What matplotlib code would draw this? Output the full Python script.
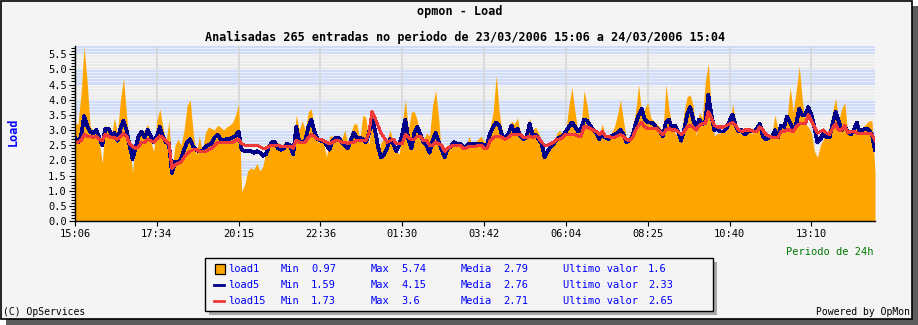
import matplotlib.pyplot as plt
import numpy as np
from matplotlib.patches import Rectangle
from matplotlib.lines import Line2D

plt.rcParams['font.family'] = 'DejaVu Sans Mono'

W, H = 918, 325

# load averages, one sample every ~5.4 minutes over 24h
load1 = [
    3.2, 3.2, 4.2, 5.74, 4.6, 3.1, 3.0, 3.1, 2.6, 1.9,
    3.2, 2.9, 2.8, 3.4, 2.9, 4.0, 4.7, 3.5, 2.5, 1.6,
    2.6, 3.0, 2.9, 3.0, 3.2, 2.6, 2.3, 3.3, 3.7, 3.1,
    2.6, 3.3, 1.7, 2.5, 2.7, 2.5, 3.0, 3.8, 4.0, 2.9,
    2.2, 2.8, 2.3, 2.9, 3.1, 3.05, 3.0, 3.15, 3.1, 3.0,
    3.1, 3.15, 3.25, 3.5, 3.85, 0.97, 1.2, 1.65, 1.75, 1.7,
    1.9, 1.65, 1.8, 2.3, 2.6, 2.7, 2.6, 2.6, 2.4, 2.6,
    2.6, 2.5, 2.4, 3.5, 3.0, 3.3, 3.0, 3.6, 3.7, 3.0,
    2.6, 2.6, 2.6, 2.1, 2.8, 2.8, 2.7, 2.6, 2.7, 3.0,
    2.6, 2.9, 3.2, 3.2, 2.7, 3.5, 3.4, 2.5, 3.4, 2.6,
    2.2, 2.6, 2.7, 2.7, 3.0, 2.6, 2.3, 2.2, 3.2, 4.0,
    3.0, 3.6, 3.6, 3.3, 2.6, 2.7, 2.9, 2.8, 3.8, 4.3,
    3.4, 2.1, 2.4, 2.5, 2.5, 2.6, 2.5, 2.5, 2.5, 2.4,
    2.8, 2.5, 2.6, 2.7, 2.8, 2.6, 2.7, 3.1, 3.6, 4.8,
    3.6, 2.9, 2.8, 2.9, 3.3, 3.2, 3.4, 2.9, 2.8, 2.8,
    3.4, 3.0, 3.1, 2.9, 2.6, 2.3, 2.4, 2.5, 2.6, 2.9,
    3.0, 2.8, 3.0, 3.8, 4.4, 3.6, 2.9, 3.1, 4.3, 3.8,
    3.1, 2.9, 2.9, 2.8, 3.2, 2.8, 2.7, 2.9, 3.1, 3.5,
    4.0, 3.3, 2.7, 2.8, 3.1, 3.6, 4.5, 3.5, 3.7, 3.9,
    3.4, 3.3, 3.2, 3.1, 2.9, 4.5, 3.7, 3.1, 2.9, 2.8,
    2.8, 3.6, 4.1, 4.15, 3.8, 2.8, 3.6, 3.4, 4.6, 5.2,
    3.6, 2.8, 2.9, 2.9, 3.0, 3.0, 3.2, 3.85, 3.3, 2.9,
    2.9, 2.9, 3.0, 2.9, 2.9, 3.0, 3.3, 2.9, 2.7, 2.7,
    2.9, 3.5, 3.0, 3.2, 3.1, 3.4, 4.4, 3.6, 4.3, 5.1,
    4.0, 3.2, 3.1, 2.9, 2.3, 2.1, 2.5, 2.7, 2.9, 3.1,
    3.6, 4.05, 3.3, 3.7, 3.9, 2.9, 2.8, 2.9, 3.1, 3.0,
    3.1, 3.2, 3.3, 3.3, 1.6,
]

load5 = [
    2.75, 2.6, 2.8, 3.45, 3.15, 2.95, 2.9, 3.0, 2.75, 2.5,
    3.05, 3.05, 2.85, 2.9, 2.65, 3.05, 3.3, 3.0, 2.5, 2.05,
    2.4, 2.8, 2.95, 2.75, 3.0, 2.8, 2.6, 2.8, 3.1, 2.8,
    2.6, 2.55, 1.59, 1.95, 1.9, 2.05, 2.35, 2.6, 2.7, 2.45,
    2.35, 2.3, 2.3, 2.45, 2.5, 2.55, 2.75, 2.85, 2.7, 2.65,
    2.7, 2.7, 2.75, 2.8, 2.95, 2.35, 2.3, 2.3, 2.3, 2.25,
    2.3, 2.25, 2.15, 2.2, 2.45, 2.6, 2.6, 2.4, 2.35, 2.4,
    2.55, 2.5, 2.2, 3.1, 2.6, 2.6, 2.65, 3.1, 3.35, 2.95,
    2.7, 2.65, 2.65, 2.5, 2.35, 2.65, 2.75, 2.75, 2.6, 2.5,
    2.4, 2.65, 2.9, 2.75, 2.75, 2.7, 2.6, 2.9, 3.35, 3.0,
    2.45, 2.1, 2.2, 2.4, 2.7, 2.55, 2.3, 2.5, 2.85, 3.35,
    2.7, 2.4, 2.9, 3.1, 2.85, 2.6, 2.5, 2.25, 2.65, 2.9,
    2.6, 2.35, 2.1, 2.4, 2.45, 2.6, 2.55, 2.55, 2.45, 2.45,
    2.55, 2.55, 2.55, 2.55, 2.55, 2.5, 2.5, 2.9, 3.1, 3.25,
    3.15, 2.8, 2.75, 2.85, 3.15, 2.9, 3.05, 2.8, 2.7, 2.75,
    3.2, 2.85, 2.85, 2.7, 2.55, 2.1, 2.3, 2.45, 2.55, 2.7,
    2.75, 2.8, 2.95, 3.1, 3.25, 3.1, 2.95, 3.05, 3.35, 3.3,
    3.15, 3.0, 2.9, 2.7, 2.85, 2.75, 2.7, 2.8, 2.85, 2.9,
    3.0, 2.85, 2.6, 2.65, 2.8, 3.2, 3.5, 3.7, 3.35, 3.25,
    3.25, 3.2, 3.05, 2.95, 2.8, 3.25, 3.35, 3.05, 3.15, 2.95,
    2.65, 3.0, 3.5, 3.75, 3.35, 3.05, 3.35, 3.2, 3.3, 4.15,
    3.5, 3.0, 3.05, 2.95, 2.95, 3.05, 3.3, 3.5, 3.15, 2.95,
    3.0, 2.85, 2.95, 2.95, 2.95, 3.05, 3.2, 2.8, 2.7, 2.75,
    2.75, 3.0, 2.75, 3.15, 3.1, 3.45, 3.25, 3.0, 3.2, 3.7,
    3.5, 3.5, 3.75, 3.5, 3.1, 2.6, 2.7, 2.9, 2.75, 2.75,
    3.2, 3.6, 3.3, 3.0, 3.1, 2.95, 2.85, 3.0, 3.25, 2.9,
    3.0, 3.05, 3.0, 2.85, 2.33,
]

load15 = [
    2.6, 2.6, 2.65, 2.85, 2.8, 2.8, 2.75, 2.8, 2.7, 2.65,
    2.85, 2.8, 2.75, 2.75, 2.7, 2.8, 2.9, 2.8, 2.55, 2.45,
    2.4, 2.45, 2.6, 2.6, 2.7, 2.65, 2.6, 2.7, 2.8, 2.75,
    2.65, 2.55, 1.73, 1.85, 1.9, 1.95, 2.1, 2.2, 2.3, 2.35,
    2.35, 2.3, 2.3, 2.3, 2.35, 2.4, 2.5, 2.6, 2.6, 2.6,
    2.6, 2.6, 2.6, 2.65, 2.7, 2.55, 2.5, 2.5, 2.5, 2.5,
    2.5, 2.45, 2.4, 2.4, 2.45, 2.5, 2.5, 2.5, 2.45, 2.45,
    2.45, 2.45, 2.4, 2.65, 2.6, 2.6, 2.6, 2.75, 2.85, 2.8,
    2.7, 2.7, 2.65, 2.6, 2.55, 2.6, 2.65, 2.65, 2.6, 2.6,
    2.55, 2.6, 2.6, 2.65, 2.65, 2.65, 2.65, 2.9, 3.6, 3.4,
    3.15, 2.9, 2.75, 2.6, 2.65, 2.7, 2.55, 2.55, 2.55, 2.85,
    2.75, 2.7, 2.7, 2.8, 2.8, 2.65, 2.65, 2.5, 2.5, 2.6,
    2.55, 2.5, 2.3, 2.4, 2.45, 2.5, 2.5, 2.5, 2.4, 2.4,
    2.45, 2.45, 2.45, 2.5, 2.5, 2.4, 2.4, 2.65, 2.75, 2.8,
    2.8, 2.75, 2.7, 2.75, 2.85, 2.85, 2.85, 2.85, 2.75, 2.75,
    2.8, 2.75, 2.8, 2.75, 2.6, 2.5, 2.5, 2.55, 2.6, 2.7,
    2.7, 2.75, 2.85, 2.85, 2.85, 2.85, 2.8, 2.8, 3.1, 3.1,
    3.05, 3.0, 2.95, 2.85, 2.95, 2.8, 2.8, 2.75, 2.75, 2.8,
    2.85, 2.8, 2.7, 2.65, 2.75, 3.0, 3.15, 3.25, 3.1, 3.05,
    3.05, 3.05, 3.05, 2.95, 2.85, 3.0, 3.05, 3.0, 3.0, 2.95,
    2.85, 2.95, 3.1, 3.15, 3.1, 3.0, 3.15, 3.2, 3.2, 3.6,
    3.4, 3.15, 3.1, 3.1, 3.1, 3.15, 3.2, 3.25, 3.15, 3.0,
    2.95, 3.0, 3.0, 3.0, 2.95, 2.95, 3.1, 3.0, 2.85, 2.8,
    2.75, 2.75, 2.75, 2.95, 2.95, 3.0, 3.0, 2.95, 3.1, 3.2,
    3.2, 3.2, 3.5, 3.3, 3.1, 2.9, 2.95, 3.0, 2.9, 2.85,
    3.05, 3.2, 3.0, 3.0, 3.15, 2.9, 2.95, 2.95, 2.9, 2.9,
    2.9, 2.9, 2.9, 2.85, 2.65,
]

time_labels = ['15:06', '17:34', '20:15', '22:36', '01:30',
               '03:42', '06:04', '08:25', '10:40', '13:10']
label_step = 27

series_names = ['load1', 'load5', 'load15']
stat_min = ['0.97', '1.59', '1.73']
stat_max = ['5.74', '4.15', '3.6']
stat_mean = ['2.79', '2.76', '2.71']
stat_last = ['1.6', '2.33', '2.65']

ORANGE = '#ffa500'
NAVY = '#000088'
RED = '#f03a3a'
TXT_BLUE = '#0000ff'


def fx(px):
    return px / W


def fy(py):
    return 1 - py / H


fig = plt.figure(figsize=(W / 100, H / 100), dpi=100, facecolor='white')

# frame with drop shadow
fig.patches.append(Rectangle((fx(6), fy(325)), 912 / W, 319 / H,
                             transform=fig.transFigure, facecolor='#5c5c5c',
                             edgecolor='none', zorder=-3))
fig.patches.append(Rectangle((fx(0.5), fy(319)), 911 / W, 318.5 / H,
                             transform=fig.transFigure, facecolor='#f4f4f4',
                             edgecolor='black', lw=1.2, zorder=-2))

ax = fig.add_axes([fx(75), fy(221), 800 / W, 175 / H])
ax.set_facecolor('white')

n = len(load1)
x = np.arange(n)
ymax = 5.77

# alternating grid fill between the 0.5 lines, minor grid on top
band_cols = ['#ececec', '#cfdbf8']
for k, lo in enumerate(np.arange(0, 6.0, 0.5)):
    ax.axhspan(lo, lo + 0.5, color=band_cols[k % 2], lw=0, zorder=0)
for yv in np.arange(0.1, ymax, 0.1):
    ax.axhline(yv, color='white', lw=0.8, alpha=0.55, zorder=0.5)

ticks = np.arange(0, n, label_step)[:len(time_labels)]
for t in ticks:
    ax.axvline(t, color='#d6d6d6', lw=1.2, zorder=0.6)

ax.fill_between(x, load1, 0, color=ORANGE, lw=0, antialiased=False, zorder=2)
ax.plot(x, load5, color=NAVY, lw=2.0, antialiased=False, zorder=3)
ax.plot(x, load15, color=RED, lw=1.5, antialiased=False, zorder=4)

ax.set_xlim(0, n - 1)
ax.set_ylim(0, ymax)
ax.set_xticks(ticks)
ax.set_xticklabels(time_labels)
ax.set_yticks(np.arange(0, 5.6, 0.5))
ax.set_yticklabels(['%.1f' % v for v in np.arange(0, 5.6, 0.5)])
ax.set_yticks(np.arange(0, ymax, 0.1), minor=True)

for side in ['top', 'right']:
    ax.spines[side].set_visible(False)
for side in ['left', 'bottom']:
    ax.spines[side].set_linewidth(1.0)
    ax.spines[side].set_zorder(5)

ax.tick_params(axis='y', which='major', direction='out', length=4.3,
               width=0.8, labelsize=7.5, pad=1.5)
ax.tick_params(axis='y', which='minor', direction='out', length=2.6, width=0.8)
ax.tick_params(axis='x', which='major', direction='out', length=3.6,
               width=0.8, labelsize=7.5, pad=2)

# titles
fig.text(fx(460), fy(11), 'opmon - Load', ha='center', va='center',
         fontsize=8.5, fontweight='bold')
fig.text(fx(465), fy(37),
         'Analisadas 265 entradas no periodo de 23/03/2006 15:06 a 24/03/2006 15:04',
         ha='center', va='center', fontsize=8.5, fontweight='bold')
fig.text(fx(13), fy(132), 'Load', rotation=90, ha='center', va='center',
         fontsize=8.5, fontweight='bold', color=TXT_BLUE)
fig.text(fx(874), fy(252), 'Periodo de 24h', ha='right', va='center',
         fontsize=7.5, color='#007700')
fig.text(fx(3), fy(312), '(C) OpServices', ha='left', va='center', fontsize=7)
fig.text(fx(910), fy(312), 'Powered by OpMon', ha='right', va='center', fontsize=7)

# legend box
fig.patches.append(Rectangle((fx(209), fy(315)), 508 / W, 53 / H,
                             transform=fig.transFigure, facecolor='#a8a8a8',
                             edgecolor='none', zorder=1))
fig.patches.append(Rectangle((fx(205), fy(311)), 508 / W, 53 / H,
                             transform=fig.transFigure, facecolor='#f4f4f4',
                             edgecolor='black', lw=1.0, zorder=2))

rows_y = [269, 285, 300.5]
fig.patches.append(Rectangle((fx(215), fy(274)), 10 / W, 10 / H,
                             transform=fig.transFigure, facecolor=ORANGE,
                             edgecolor='black', lw=0.9, zorder=3))
for yy, col in [(rows_y[1], NAVY), (rows_y[2], RED)]:
    fig.add_artist(Line2D([fx(214), fx(224)], [fy(yy), fy(yy)], color=col,
                          lw=2.0, transform=fig.transFigure, zorder=3))

for i, yy in enumerate(rows_y):
    cells = [(228, series_names[i]), (281, 'Min'), (311, stat_min[i]),
             (371, 'Max'), (401, stat_max[i]), (461, 'Media'),
             (503, stat_mean[i]), (563, 'Ultimo valor'), (648, stat_last[i])]
    for xx, s in cells:
        fig.text(fx(xx), fy(yy), s, ha='left', va='center', fontsize=7.5,
                 color=TXT_BLUE, zorder=4)

fig.savefig('out.png', dpi=100, facecolor=fig.get_facecolor())
